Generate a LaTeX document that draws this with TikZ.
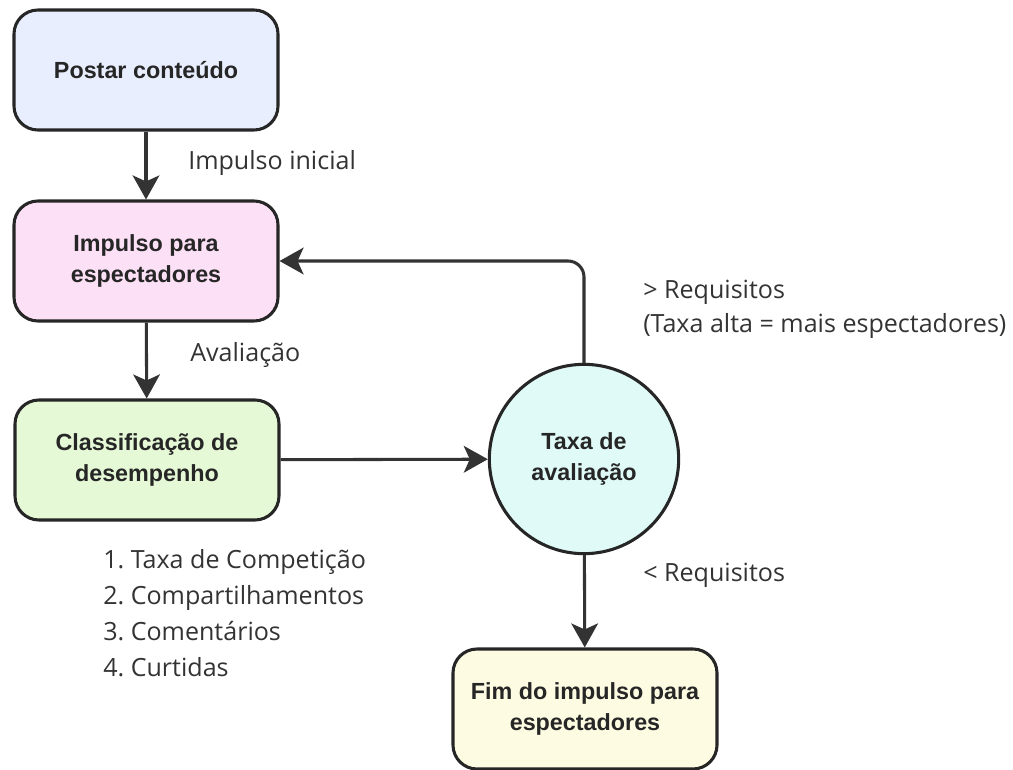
\documentclass[tikz,border=0pt]{standalone}
\usepackage{fontspec}
\setmainfont{Open Sans}
\newfontfamily\boxfont{Liberation Sans}
\usetikzlibrary{arrows.meta}
\frenchspacing
\definecolor{linegray}{HTML}{333333}
\definecolor{txtgray}{HTML}{333333}
\definecolor{azul}{HTML}{E8EEFD}
\definecolor{rosa}{HTML}{FCE0F6}
\definecolor{verde}{HTML}{E5F9D6}
\definecolor{ciano}{HTML}{E0FAF7}
\definecolor{amarelo}{HTML}{FDFCE2}
\tikzset{
    caixa/.style={draw=black!85, line width=2.3pt, rounded corners=18pt,
        minimum width=198pt, minimum height=90pt, align=center,
        font=\boxfont\bfseries\fontsize{17.5}{23}\selectfont, text=black!85},
    seta/.style={draw=linegray, line width=2.3pt,
        -{Stealth[length=18pt, width=20pt, inset=4.5pt]}},
    rotulo/.style={text=txtgray, font=\fontsize{18.8}{25.5}\selectfont,
        align=left, inner sep=0pt}
}
\begin{document}
\begin{tikzpicture}[x=0.75pt, y=-0.75pt]
    \useasboundingbox (0,0) rectangle (1013,770);
    \node[caixa, fill=azul] (post) at (146,70) {Postar conteúdo};
    \node[caixa, fill=rosa] (imp) at (146,261) {Impulso para\\espectadores};
    \node[caixa, fill=verde] (clas) at (147,460) {Classificação de\\desempenho};
    \node[caixa, circle, rounded corners=0pt, minimum size=142pt, fill=ciano] (taxa) at (584,459) {Taxa de\\avaliação};
    \node[caixa, fill=amarelo] (fim) at (585,709) {Fim do impulso para\\espectadores};
    % conectores
    \draw[seta] (post) -- (imp);
    \draw[seta] (imp) -- (clas);
    \draw[seta] (clas) -- (taxa);
    \draw[seta, rounded corners=12pt] (taxa.north) |- (imp.east);
    \draw[seta] (taxa) -- (fim);
    % rotulos
    \node[rotulo, anchor=west] (l1) at (188,163) {Impulso inicial};
    \node[rotulo, anchor=west] (l2) at (190,355) {Avaliação};
    \node[rotulo, anchor=west] (l3) at (643,309) {> Requisitos\\(Taxa alta = mais espectadores)};
    \node[rotulo, anchor=west] (l4) at (643,575) {< Requisitos};
    \node[rotulo, anchor=north west, font=\fontsize{18.8}{27}\selectfont] (lista) at (103,549)
        {1. Taxa de Competição\\2. Compartilhamentos\\3. Comentários\\4. Curtidas};
\end{tikzpicture}
\end{document}
